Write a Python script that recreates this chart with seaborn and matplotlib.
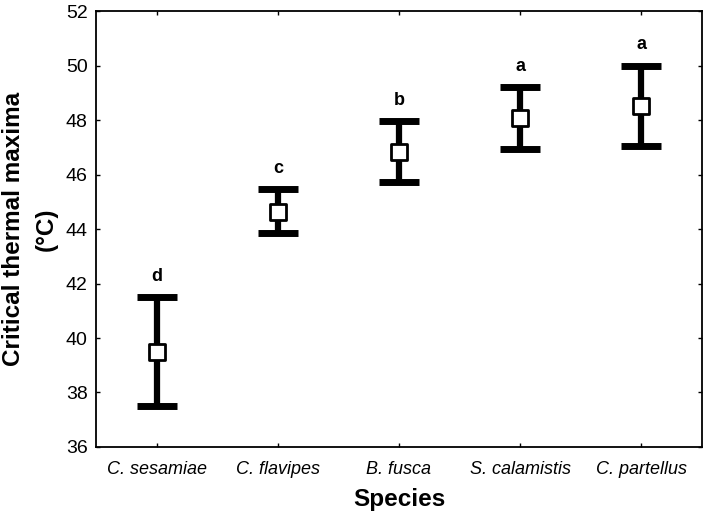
import numpy as np
import pandas as pd
import matplotlib
matplotlib.use("Agg")
import matplotlib.pyplot as plt
import seaborn as sns

species = ["C. sesamiae", "C. flavipes", "B. fusca", "S. calamistis", "C. partellus"]
ctmax = [39.5, 44.62, 46.83, 48.08, 48.5]
upper = [41.5, 45.46, 47.96, 49.2, 50.0]
lower = [37.5, 43.85, 45.74, 46.95, 47.03]
letters = ["d", "c", "b", "a", "a"]

sns.set_style("ticks")
plt.rcParams['font.family'] = ['Liberation Sans', 'DejaVu Sans']
plt.rcParams['text.color'] = 'black'
plt.rcParams['axes.labelcolor'] = 'black'
plt.rcParams['xtick.color'] = 'black'
plt.rcParams['ytick.color'] = 'black'
plt.rcParams['axes.edgecolor'] = 'black'

df = pd.DataFrame({"species": species, "ctmax": ctmax, "upper": upper, "lower": lower})
df["pos"] = np.arange(len(df))

fig = plt.figure(figsize=(7.09, 5.17), dpi=100)
ax = fig.add_axes([0.1354, 0.1354, 0.8547, 0.8433])

yerr = [df.ctmax - df.lower, df.upper - df.ctmax]
ax.errorbar(df.pos, df.ctmax, yerr=yerr, fmt="none", ecolor="black",
            elinewidth=4.5, capsize=14.5, capthick=5, zorder=2)
sns.scatterplot(data=df, x="pos", y="ctmax", marker="s", s=140, color="white",
                edgecolor="black", linewidth=2, zorder=3, ax=ax, legend=False)

for i, row in df.iterrows():
    ax.text(row.pos, row.upper + 0.45, letters[i], ha="center", va="bottom",
            fontsize=13, fontweight="bold")

ax.set_xlim(-0.5, 4.5)
ax.set_ylim(36, 52)
ax.set_yticks(np.arange(36, 53, 2))
ax.set_xticks(df.pos)
ax.set_xticklabels(species, fontsize=13, style="italic")
ax.tick_params(axis="y", labelsize=14, pad=6)
ax.tick_params(axis="x", pad=10)
ax.tick_params(direction="in", length=3, width=1, top=True, right=True)
for s in ax.spines.values():
    s.set_linewidth(1.3)
    s.set_visible(True)

ax.set_xlabel("Species", fontsize=17.5, fontweight="bold", labelpad=7)
ax.set_ylabel("Critical thermal maxima\n(°C)", fontsize=17.5, fontweight="bold",
              labelpad=6, linespacing=1.5)

fig.savefig("out.png", dpi=100)
